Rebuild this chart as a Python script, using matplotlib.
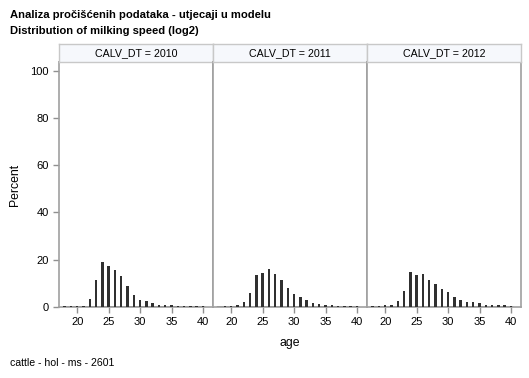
import matplotlib
matplotlib.use("Agg")
import matplotlib.pyplot as plt

plt.rcParams['font.family'] = ['Liberation Sans', 'DejaVu Sans']

ages = list(range(18, 41))
years = ["2010", "2011", "2012"]
pct_2010 = [0.1, 0.1, 0.1, 0.2, 3.1, 11.2, 18.8, 17.2, 15.7, 13.1, 8.8, 5.1, 2.8, 2.4, 1.4, 0.7, 0.6, 0.5, 0.3, 0.4, 0.2, 0.1, 0.1]
pct_2011 = [0.0, 0.1, 0.1, 0.6, 2.0, 5.6, 13.4, 14.3, 16.1, 13.7, 11.3, 7.8, 5.2, 4.0, 2.7, 1.7, 1.1, 0.8, 0.6, 0.3, 0.2, 0.1, 0.1]
pct_2012 = [0.1, 0.4, 0.6, 0.8, 2.3, 6.8, 14.7, 13.3, 14.0, 11.2, 9.7, 7.3, 6.2, 4.2, 2.8, 1.8, 2.0, 1.4, 0.7, 0.6, 0.6, 0.8, 0.2]
series = [pct_2010, pct_2011, pct_2012]
xticks = [20, 25, 30, 35, 40]
yticks = [0, 20, 40, 60, 80, 100]

W, H = 529, 378
fig = plt.figure(figsize=(W / 100, H / 100), dpi=100)

frame_col = '#a0a0a0'
panel_x = [59, 213, 367]
panel_w = 154
top, bottom = 62, 307
strip_top = 44

def fx(x):
    return x / W

def fy(y):
    return 1 - y / H

for i, (yr, vals) in enumerate(zip(years, series)):
    x0 = panel_x[i]
    ax = fig.add_axes([fx(x0), fy(bottom), panel_w / W, (bottom - top) / H])
    ax.plot([ages[0] - 0.2, ages[-1] + 0.2], [0, 0], color='#3a3a3a', lw=1, zorder=3)
    ax.bar(ages, vals, width=0.4, color='#303030', edgecolor='none', zorder=4)
    ax.set_xlim(17.1, 41.6)
    ax.set_ylim(-0.2, 104)
    ax.set_xticks(xticks)
    ax.set_yticks(yticks)
    ax.tick_params(colors='#909090', labelcolor='black', labelsize=8, length=4, width=1, direction='out')
    for s in ax.spines.values():
        s.set_color(frame_col)
        s.set_linewidth(1.2)
    if i > 0:
        ax.tick_params(axis='y', left=False, labelleft=False)
    # strip
    sax = fig.add_axes([fx(x0), fy(top), panel_w / W, (top - strip_top) / H])
    sax.set_facecolor('#f6f8fc')
    sax.set_xticks([])
    sax.set_yticks([])
    for s in sax.spines.values():
        s.set_color('#c8c8c8')
        s.set_linewidth(1)
    sax.text(0.5, 0.5, f"CALV_DT = {yr}", ha='center', va='center', fontsize=7.7, transform=sax.transAxes)

fig.text(fx(10), fy(15), "Analiza pročišćenih podataka - utjecaji u modelu", fontsize=8.1, fontweight='bold', va='center', ha='left')
fig.text(fx(10), fy(31), "Distribution of milking speed (log2)", fontsize=8.1, fontweight='bold', va='center', ha='left')
fig.text(fx(15), fy(185), "Percent", rotation=90, fontsize=8.8, va='center', ha='center')
fig.text(fx(290), fy(343), "age", fontsize=8.8, va='center', ha='center')
fig.text(fx(10), fy(363), "cattle - hol - ms - 2601", fontsize=7.6, va='center', ha='left')

fig.savefig("out.png", dpi=100)
